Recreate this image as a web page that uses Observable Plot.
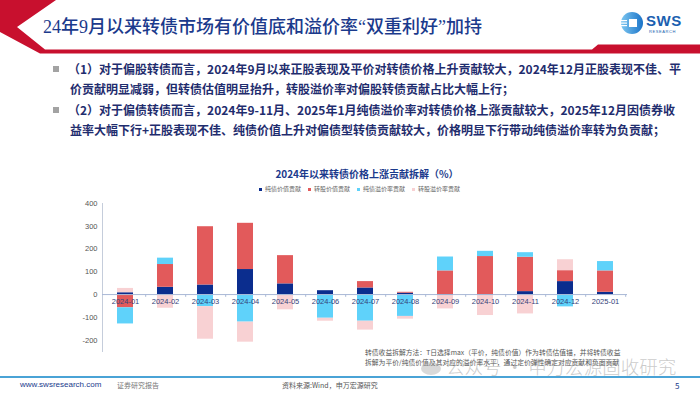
<!DOCTYPE html>
<html>
<head>
<meta charset="utf-8">
<script src="https://cdn.jsdelivr.net/npm/d3@7"></script>
<script src="https://cdn.jsdelivr.net/npm/@observablehq/plot@0.6"></script>
<style>
  body { margin: 0; background: #fff; }
  #slide { position: relative; width: 700px; height: 394px; overflow: hidden; background: #fff; font-family: "Noto Sans CJK SC", "Noto Sans", sans-serif; }
  .abs { position: absolute; white-space: nowrap; }
  .bl { font-size: 12px; font-weight: 700; color: #1f2d6e; line-height: 14px; }
  .sq { position: absolute; width: 6px; height: 6px; background: #a3a3a3; }
</style>
</head>
<body>
<div id="slide">
  <svg class="abs" style="left:0;top:0" width="700" height="60">
    <polygon points="0,0 56,0 17,27 45,49.5 592,49.5 598,44.5 700,44.5 700,53.5 40,53.5 0,32" fill="#c8102e"/>
  </svg>
  <div class="abs" id="title" style="left:43px;top:15px;font-size:18px;line-height:24px;color:#1b3a8c;font-weight:500;font-family:'Liberation Serif','Noto Sans CJK SC',serif;"></div>
  <svg class="abs" style="left:620px;top:11px" width="24" height="24" viewBox="0 0 24 24">
    <defs><linearGradient id="lg" x1="0" x2="1"><stop offset="0" stop-color="#7cc6f0"/><stop offset="1" stop-color="#1b74c9"/></linearGradient></defs>
    <circle cx="12" cy="12" r="11" fill="url(#lg)"/>
    <rect x="9" y="8" width="8" height="8" fill="#fff"/>
    <rect x="1" y="9" width="6" height="1.2" fill="#fff"/>
    <rect x="1" y="11.5" width="6" height="1.2" fill="#fff"/>
    <rect x="1" y="14" width="6" height="1.2" fill="#fff"/>
  </svg>
  <div class="abs" style="left:646px;top:12px;font-size:15px;font-weight:700;color:#1b5fb0;font-family:'Liberation Sans',sans-serif;letter-spacing:0.5px;">SWS</div>
  <div class="abs" style="left:649px;top:29px;font-size:4px;color:#1b5fb0;font-family:'Liberation Sans',sans-serif;letter-spacing:0.6px;">RESEARCH</div>

  <div id="bullets"></div>

  <div class="abs" id="ctitle" style="left:12px;width:710px;text-align:center;top:166px;font-size:10px;font-weight:700;color:#1b3a8c;"></div>
  <div class="abs" id="legend" style="left:259px;top:184px;font-size:6px;color:#666;"></div>

  <div id="chart" class="abs" style="left:0;top:195px"></div>

  <div class="abs" id="note" style="left:365px;top:348px;font-size:6.8px;line-height:9.5px;color:#555;"></div>
  <div class="abs" style="left:421px;top:355px;font-size:18.5px;line-height:22px;font-weight:300;color:rgba(150,150,150,0.5);"><span style="display:inline-block;width:20px;height:13px;border-radius:50%;background:rgba(170,170,170,0.45);vertical-align:middle;margin-right:5px"></span>公众号 · 申万宏源固收研究</div>

  <div class="abs" style="left:0;top:376px;width:700px;height:1.5px;background:#4aa3d6"></div>
  <div class="abs" style="left:20px;top:380px;font-size:8px;color:#1b3a8c;font-family:'Liberation Sans',sans-serif;">www.swsresearch.com</div>
  <div class="abs" style="left:117px;top:380px;font-size:7px;color:#777;">证券研究报告</div>
  <div class="abs" style="left:282px;top:380px;font-size:7px;color:#555;">资料来源:Wind，申万宏源研究</div>
  <div class="abs" style="left:675px;top:380px;font-size:8px;color:#1b3a8c;">5</div>
</div>
<script>
const titleText = "24年9月以来转债市场有价值底和溢价率“双重利好”加持";
const bulletLines = [
  "（1）对于偏股转债而言，2024年9月以来正股表现及平价对转债价格上升贡献较大，2024年12月正股表现不佳、平",
  "价贡献明显减弱，但转债估值明显抬升，转股溢价率对偏股转债贡献占比大幅上行；",
  "（2）对于偏债转债而言，2024年9-11月、2025年1月纯债溢价率对转债价格上涨贡献较大，2025年12月因债券收",
  "益率大幅下行+正股表现不佳、纯债价值上升对偏债型转债贡献较大，价格明显下行带动纯债溢价率转为负贡献；"
];
const chartTitle = "2024年以来转债价格上涨贡献拆解（%）";
const noteLines = [
  "转债收益拆解方法：T日选择max（平价，纯债价值）作为转债估值锚，并将转债收益",
  "拆解为平价/纯债价值及其对应的溢价率水平，通过定价弹性确定对应贡献和负面贡献"
];

const months = ["2024-01","2024-02","2024-03","2024-04","2024-05","2024-06","2024-07","2024-08","2024-09","2024-10","2024-11","2024-12","2025-01"];
const seriesNames = ["纯债价值贡献","转股价值贡献","纯债溢价率贡献","转股溢价率贡献"];
const bondValue = [8, 32, 42, 110, 47, 17, 29, 6, -4, -3, 13, 57, 10];
const convValue = [-58, 100, 256, 203, 124, 0, 28, 4, 104, 167, 151, 48, 94];
const bondPremium = [-71, 28, -53, -121, -2, -104, -117, -96, 61, 23, 20, -54, 41];
const convPremium = [19, -60, -143, -88, -65, -13, -39, -12, -59, -89, -85, 48, -3];
const yTicks = [-200, -100, 0, 100, 200, 300, 400];
const colors = ["#0b2d8e", "#e25a5b", "#5fd2fa", "#f8d1d3"];

document.getElementById("title").textContent = titleText;
document.getElementById("ctitle").textContent = chartTitle;
const bl = document.getElementById("bullets");
const lineTops = [62, 82, 103, 123];
bulletLines.forEach((t, i) => {
  const d = document.createElement("div");
  d.className = "abs bl";
  d.style.left = (i % 2 === 0 ? 68 : 70) + "px";
  d.style.top = lineTops[i] + "px";
  d.textContent = t;
  bl.appendChild(d);
  if (i % 2 === 0) {
    const s = document.createElement("div");
    s.className = "sq";
    s.style.left = "53px";
    s.style.top = (lineTops[i] + 4) + "px";
    bl.appendChild(s);
  }
});
document.getElementById("note").innerHTML = noteLines.join("<br>");
document.getElementById("legend").innerHTML = seriesNames.map((n, i) =>
  `<span style="display:inline-block;width:3px;height:3px;background:${colors[i]};margin-right:3px;vertical-align:middle"></span><span style="margin-right:7px">${n}</span>`
).join("");

const seriesValues = [bondValue, convValue, bondPremium, convPremium];
const rows = months.flatMap((m, i) => seriesNames.map((s, k) => ({month: m, series: s, value: seriesValues[k][i]})));

const W = 700, mL = 102, mR = 73;
const halfStep = (W - mL - mR) / months.length / 2;

const chart = Plot.plot({
  width: W, height: 160,
  marginTop: 8, marginBottom: 4, marginLeft: mL, marginRight: mR,
  style: {fontFamily: "'Liberation Sans', 'Noto Sans', sans-serif", fontSize: "7.5px", color: "#555", background: "transparent", overflow: "visible"},
  x: {domain: months, paddingInner: 0.6, paddingOuter: 0.3, axis: null},
  y: {domain: [-250, 400], ticks: yTicks, tickSize: 0, tickPadding: 5, label: null, tickFormat: d => String(d)},
  color: {domain: seriesNames, range: colors},
  marks: [
    Plot.frame({anchor: "left", stroke: "#c5cddb"}),
    Plot.barY(rows, {x: "month", y: "value", fill: "series", z: "series"}),
    Plot.ruleY([0], {stroke: "#a9b8d6", strokeWidth: 1}),
    Plot.ruleX(months, {x: d => d, dx: halfStep, y1: 0, y2: -12, stroke: "#a9b8d6"}),
    Plot.text(months, {x: d => d, y: 0, dy: 7, text: d => d, fontSize: 7.5, fill: "#34437a"})
  ]
});
document.getElementById("chart").appendChild(chart);
</script>
</body>
</html>
